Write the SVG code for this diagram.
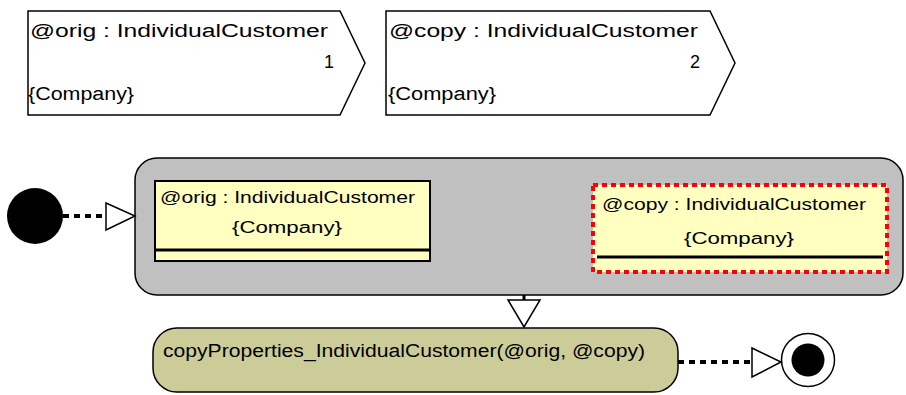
<svg xmlns="http://www.w3.org/2000/svg" width="906" height="395" viewBox="0 0 906 395">
  <defs>
    <style>
      text { font-family: "Liberation Sans", Arial, sans-serif; fill: #000; }
      .t18 { font-size: 18px; }
      .t16 { font-size: 16px; }
      .mid { text-anchor: middle; }
      .end { text-anchor: end; }
      .pin { fill: #fff; stroke: #000; stroke-width: 1.5; }
      .flow { fill: none; stroke: #000; stroke-width: 4; stroke-dasharray: 6 5; }
      .head { fill: #fff; stroke: #000; stroke-width: 1.5; }
      .obj { fill: #ffffc0; stroke: #000; stroke-width: 2; }
      .sep { stroke: #000; stroke-width: 3; }
    </style>
  </defs>

  <rect width="906" height="395" fill="#fff"/>

  <!-- parameter pins -->
  <g id="param-orig">
    <polygon class="pin" points="28,11 340,11 365,63 340,115 28,115"/>
    <text class="t18" x="30" y="37" textLength="298" lengthAdjust="spacingAndGlyphs">@orig : IndividualCustomer</text>
    <text class="t18 end" x="334" y="68">1</text>
    <text class="t18" x="28" y="100" textLength="106" lengthAdjust="spacingAndGlyphs">{Company}</text>
  </g>
  <g id="param-copy">
    <polygon class="pin" points="386,11 710,11 735,63 710,115 386,115"/>
    <text class="t18" x="389" y="37" textLength="309" lengthAdjust="spacingAndGlyphs">@copy : IndividualCustomer</text>
    <text class="t18 end" x="700" y="68">2</text>
    <text class="t18" x="388" y="100" textLength="108" lengthAdjust="spacingAndGlyphs">{Company}</text>
  </g>

  <!-- start / end nodes -->
  <g id="initial">
    <circle cx="35" cy="216" r="28" fill="#000"/>
  </g>
  <g id="final">
    <circle cx="808" cy="360" r="26.5" fill="#fff" stroke="#000" stroke-width="1.5"/>
    <circle cx="808" cy="360" r="16.5" fill="#000"/>
  </g>

  <!-- structured region holding the two object nodes -->
  <g id="region">
    <rect x="135" y="158" width="768" height="137" rx="22" ry="22" fill="#c0c0c0" stroke="#000" stroke-width="1.5"/>
  </g>
  <g id="obj-orig">
    <rect class="obj" x="155" y="181" width="275" height="80"/>
    <line class="sep" x1="155" y1="250" x2="430" y2="250"/>
    <text class="t16" x="160" y="203" textLength="255" lengthAdjust="spacingAndGlyphs">@orig : IndividualCustomer</text>
    <text class="t16 mid" x="287" y="233" textLength="110" lengthAdjust="spacingAndGlyphs">{Company}</text>
  </g>
  <g id="obj-copy">
    <rect x="593" y="185" width="294" height="87" fill="#ffffc0" stroke="#f00" stroke-width="4" stroke-dasharray="5 4"/>
    <line class="sep" x1="597" y1="257" x2="883" y2="257"/>
    <text class="t16" x="602" y="210" textLength="264" lengthAdjust="spacingAndGlyphs">@copy : IndividualCustomer</text>
    <text class="t16 mid" x="739" y="244" textLength="110" lengthAdjust="spacingAndGlyphs">{Company}</text>
  </g>

  <!-- action -->
  <g id="action">
    <rect x="153" y="328" width="525" height="64" rx="24" ry="24" fill="#cccc99" stroke="#000" stroke-width="1.5"/>
    <text class="t18" x="163" y="357" textLength="482" lengthAdjust="spacingAndGlyphs">copyProperties_IndividualCustomer(@orig, @copy)</text>
  </g>

  <!-- control flows -->
  <g id="connectors">
    <line class="flow" x1="63" y1="216" x2="106" y2="216"/>
    <polygon class="head" points="106,203 135,216 106,230"/>

    <line x1="524" y1="295" x2="524" y2="300" stroke="#000" stroke-width="3"/>
    <polygon class="head" points="508,300 540,300 524,327"/>

    <line class="flow" x1="678" y1="362" x2="752" y2="362"/>
    <polygon class="head" points="752,348 781,362 752,377"/>
  </g>
</svg>
